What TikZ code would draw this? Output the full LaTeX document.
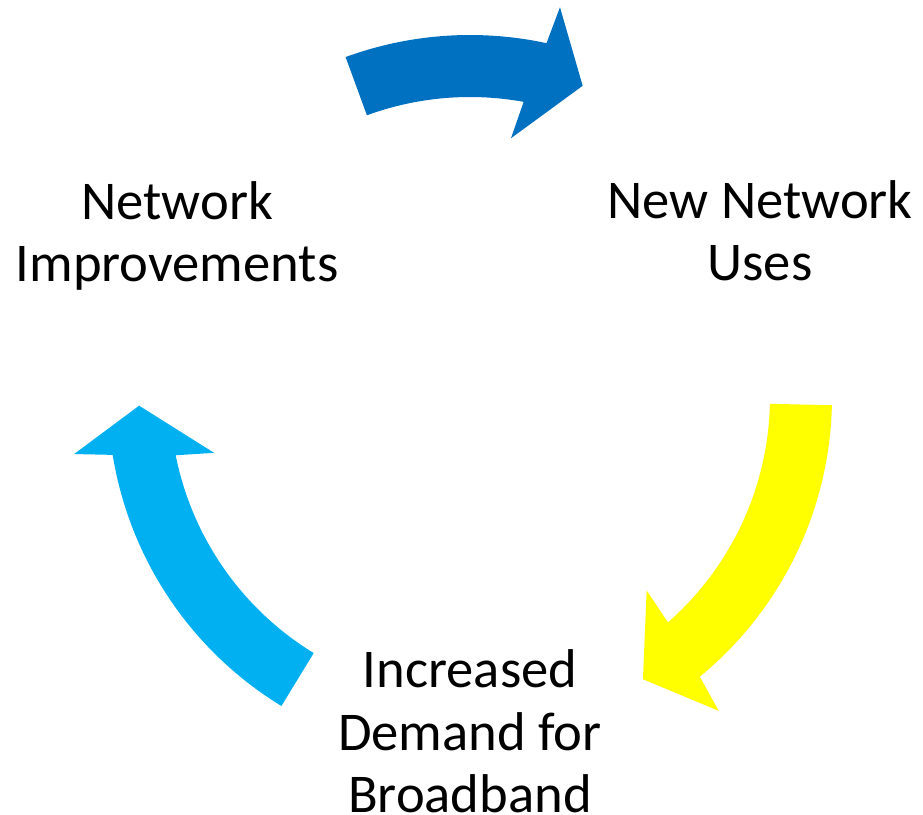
\documentclass[tikz,border=0pt]{standalone}
\usepackage{fontspec}
\setmainfont{Carlito}
\definecolor{arrowdark}{HTML}{0070C0}
\definecolor{arrowyellow}{HTML}{FFFF00}
\definecolor{arrowlight}{HTML}{00B0F0}
\begin{document}
\begin{tikzpicture}[x=1pt,y=1pt,
  lbl/.style={align=center, inner sep=0pt, font=\fontsize{54.6}{62.3}\selectfont}]
\useasboundingbox (0,0) rectangle (923,-814);
\begin{scope}[shift={(470pt,-397pt)}]
  % top arrow: Network Improvements -> New Network Uses
  \fill[arrowdark] (110.1:362pt) arc[start angle=110.1, end angle=77.8, radius=362pt]
    -- (77:400pt) -- (70.1:331pt) -- (81:262pt) -- (79.7:300pt)
    arc[start angle=79.7, end angle=110.1, radius=300pt] -- cycle;
  % right arrow: New Network Uses -> Increased Demand
  \fill[arrowyellow] (-1.3:362pt) arc[start angle=-1.3, end angle=-50.6, radius=362pt]
    -- (-51.6:400.5pt) -- (-58.5:331pt) -- (-47.6:262pt) -- (-48.7:300pt)
    arc[start angle=-48.7, end angle=-1.3, radius=300pt] -- cycle;
  % left arrow: Increased Demand -> Network Improvements
  \fill[arrowlight] (238.6:362pt) arc[start angle=238.6, end angle=189.2, radius=362pt]
    -- (188.2:400pt) -- (181.5:331pt) -- (192.3:262pt) -- (191.2:300pt)
    arc[start angle=191.2, end angle=238.6, radius=300pt] -- cycle;
\end{scope}
\node[lbl] (impr) at (177,-237.7) {Network\strut\\Improvements\strut};
\node[lbl] (uses) at (760,-237) {New Network\strut\\Uses\strut};
\node[lbl, anchor=north] (demand) at (470,-644.1)
  {Increased\strut\\Demand for\strut\\Broadband\rule{0pt}{43.6pt}};
\end{tikzpicture}
\end{document}
